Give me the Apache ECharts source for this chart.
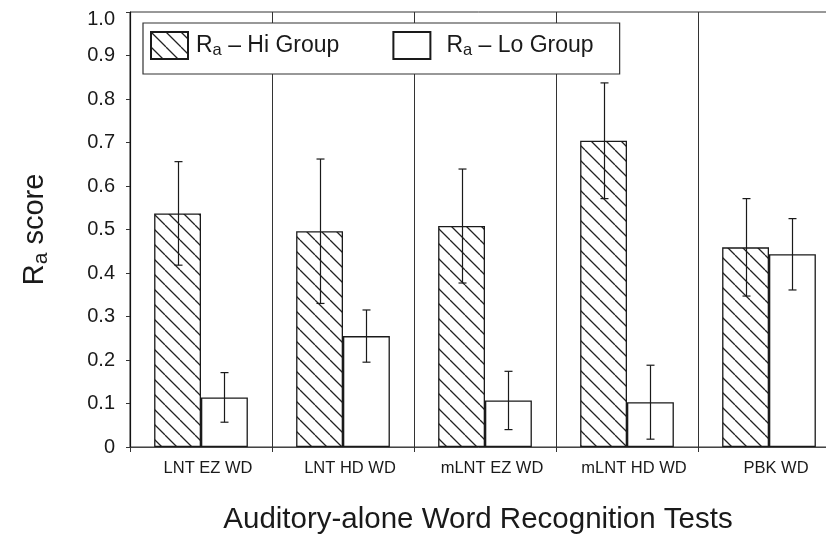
<!DOCTYPE html>
<html>
<head>
<meta charset="utf-8">
<script src="https://cdn.jsdelivr.net/npm/echarts@6/dist/echarts.min.js"></script>
<style>
  html, body { margin: 0; padding: 0; background: #fff; }
  #chart { width: 826px; height: 546px; }
</style>
</head>
<body>
<div id="chart"></div>
<script>
// Word recognition tests and group means with their error bars
const categories = ['LNT EZ WD', 'LNT HD WD', 'mLNT EZ WD', 'mLNT HD WD', 'PBK WD'];
const hiMean = [0.537, 0.496, 0.508, 0.704, 0.459];
const hiErr  = [0.119, 0.166, 0.131, 0.133, 0.112];
const loMean = [0.114, 0.255, 0.107, 0.103, 0.443];
const loErr  = [0.057, 0.060, 0.067, 0.085, 0.082];
const groupNames = ['Hi Group', 'Lo Group'];

const FONT = '"Liberation Sans", Arial, Helvetica, sans-serif';
const INK = '#1a1a1a';

// Diagonal "\\\\" hatch tile for the Hi group bars
function hatchTile(size, width) {
  const c = document.createElement('canvas');
  c.width = size; c.height = size;
  const g = c.getContext('2d');
  g.fillStyle = '#fff';
  g.fillRect(0, 0, size, size);
  g.strokeStyle = '#222';
  g.lineWidth = width;
  g.beginPath();
  [[0, 0, size, size], [-size, 0, 0, size], [size, 0, 2 * size, size]].forEach(([x1, y1, x2, y2]) => {
    g.moveTo(x1, y1); g.lineTo(x2, y2);
  });
  g.stroke();
  return c;
}
const hatch = { image: hatchTile(15, 1.3), repeat: 'repeat' };

const BAR_SPAN = 0.66; // share of each category band taken by the two bars

function errorBars(mean, err, side) {
  return {
    type: 'custom',
    silent: true,
    z: 5,
    encode: { x: 0, y: [1, 2] },
    data: mean.map((m, i) => [i, m - err[i], m + err[i]]),
    renderItem(params, api) {
      const i = api.value(0);
      const top = api.coord([i, api.value(2)]);
      const bot = api.coord([i, api.value(1)]);
      const bw = api.size([1, 0])[0] * BAR_SPAN / 2;
      const x = Math.round(top[0] + side * bw / 2) + 0.5;
      const cap = 4;
      const st = { stroke: INK, lineWidth: 1.2 };
      return {
        type: 'group',
        children: [
          { type: 'line', shape: { x1: x, y1: top[1], x2: x, y2: bot[1] }, style: st },
          { type: 'line', shape: { x1: x - cap, y1: top[1], x2: x + cap, y2: top[1] }, style: st },
          { type: 'line', shape: { x1: x - cap, y1: bot[1], x2: x + cap, y2: bot[1] }, style: st }
        ]
      };
    }
  };
}

const chart = echarts.init(document.getElementById('chart'), null, { renderer: 'canvas' });

chart.setOption({
  animation: false,
  backgroundColor: '#fff',
  textStyle: { fontFamily: FONT, color: INK },
  grid: {
    left: 130, top: 12, width: 710, height: 435,
    outerBoundsMode: 'none', containLabel: false,
    show: true, borderColor: '#333', borderWidth: 1, backgroundColor: 'transparent'
  },
  legend: {
    data: groupNames,
    left: 143, top: 23,
    orient: 'horizontal',
    padding: [8, 26, 14, 7],
    itemWidth: 37, itemHeight: 27, itemGap: 53,
    icon: 'rect',
    backgroundColor: '#fff',
    borderColor: '#333', borderWidth: 1.2,
    formatter: name => (name === groupNames[1] ? '{g|}' : '') + '{r|R}{s|a}{r| – ' + name + '}',
    textStyle: {
      fontFamily: FONT, color: INK, padding: [0, 0, 0, 3],
      rich: {
        g: { width: 8, lineHeight: 27 },
        r: { fontFamily: FONT, fontSize: 23, color: INK, lineHeight: 27 },
        s: { fontFamily: FONT, fontSize: 16.5, color: INK, lineHeight: 15, verticalAlign: 'bottom' }
      }
    }
  },
  xAxis: {
    type: 'category',
    data: categories,
    name: 'Auditory-alone Word Recognition Tests',
    nameLocation: 'middle',
    nameGap: 58,
    nameTextStyle: { fontFamily: FONT, fontSize: 29.5, color: INK, padding: [0, 14, 0, 0] },
    axisLine: { lineStyle: { color: '#444', width: 1 } },
    axisTick: { show: true, length: 5, lineStyle: { color: '#333' } },
    splitLine: { show: true, lineStyle: { color: '#333', width: 1 } },
    axisLabel: { fontFamily: FONT, fontSize: 16.5, color: INK, margin: 13, padding: [0, 0, 0, 14] }
  },
  yAxis: {
    type: 'value',
    min: 0, max: 1, interval: 0.1,
    name: '{r|R}{s|a}{r| score}',
    nameLocation: 'middle',
    nameGap: 78,
    nameTextStyle: {
      rich: {
        r: { fontFamily: FONT, fontSize: 29, color: INK },
        s: { fontFamily: FONT, fontSize: 21, color: INK, padding: [14, 0, 0, 0] }
      }
    },
    axisLine: { show: true, lineStyle: { color: '#111', width: 1.2 } },
    axisTick: { show: true, length: 4, lineStyle: { color: '#333' } },
    splitLine: { show: false },
    axisLabel: {
      fontFamily: FONT, fontSize: 20, color: INK, margin: 15,
      formatter: v => v === 0 ? '0' : (v >= 0.999 ? '{t|1.0}' : v.toFixed(1)),
      rich: { t: { fontFamily: FONT, fontSize: 20, color: INK, padding: [14, 0, 0, 0] } }
    }
  },
  series: [
    {
      name: groupNames[0], type: 'bar', data: hiMean,
      barGap: '0%', barCategoryGap: '34%',
      itemStyle: { color: hatch, borderColor: INK, borderWidth: 1.3 }
    },
    {
      name: groupNames[1], type: 'bar', data: loMean,
      barGap: '0%', barCategoryGap: '34%',
      itemStyle: { color: '#fff', borderColor: INK, borderWidth: 1.3 }
    },
    errorBars(hiMean, hiErr, -1),
    errorBars(loMean, loErr, 1)
  ]
});
</script>
</body>
</html>
